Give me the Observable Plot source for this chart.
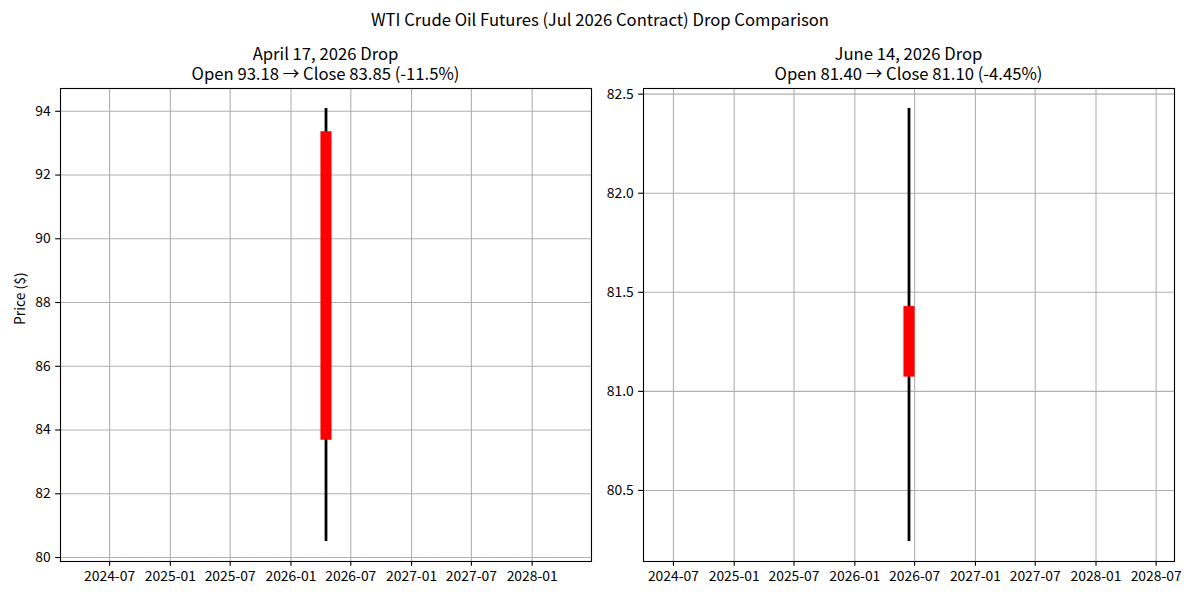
<!DOCTYPE html>
<html>
<head>
<meta charset="utf-8">
<script src="https://cdn.jsdelivr.net/npm/d3@7"></script>
<script src="https://cdn.jsdelivr.net/npm/@observablehq/plot@0.6"></script>
<style>
  html, body { margin: 0; padding: 0; background: #fff; }
  #root { position: relative; width: 1200px; height: 600px; font-family: "Noto Sans CJK JP", "Noto Sans", sans-serif; color: #000; overflow: hidden; }
  .sup { position: absolute; left: 0; top: 9px; width: 1200px; text-align: center; font-size: 16.67px; line-height: 20px; }
  .ttl { position: absolute; top: 43px; width: 500px; text-align: center; font-size: 16.67px; line-height: 20px; white-space: nowrap; }
  .panel { position: absolute; top: 80px; }
</style>
</head>
<body>
<div id="root"></div>
<script>
// ---- data ----
const suptitle = "WTI Crude Oil Futures (Jul 2026 Contract) Drop Comparison";
const panelTitles = [
  ["April 17, 2026 Drop", "Open 93.18 \u2192 Close 83.85 (-11.5%)"],
  ["June 14, 2026 Drop", "Open 81.40 \u2192 Close 81.10 (-4.45%)"]
];
const dates = ["2026-04-17", "2026-06-14"];
const opens = [93.18, 81.40];
const closes = [83.85, 81.10];
const highs = [94.04, 82.42];
const lows = [80.55, 80.25];
const yTicksLeft = [80, 82, 84, 86, 88, 90, 92, 94];
const yTicksRight = [80.5, 81.0, 81.5, 82.0, 82.5];
const xTicksLeft = ["2024-07-01","2025-01-01","2025-07-01","2026-01-01","2026-07-01","2027-01-01","2027-07-01","2028-01-01"];
const xTicksRight = ["2024-07-01","2025-01-01","2025-07-01","2026-01-01","2026-07-01","2027-01-01","2027-07-01","2028-01-01","2028-07-01"];
const yLabel = "Price ($)";

const root = document.getElementById("root");
const sup = document.createElement("div");
sup.className = "sup"; sup.textContent = suptitle; root.appendChild(sup);

const DAY = 86400000;
function panel(i, opts) {
  const d = new Date(dates[i]);
  const rows = [{date: d, open: opens[i], close: closes[i], high: highs[i], low: lows[i]}];
  const span = highs[i] - lows[i];
  const yDomain = [lows[i] - 0.05 * span, highs[i] + 0.05 * span];
  const halfX = (730.5 * 2) * 0.55; // matplotlib nonsingular date expansion + 5% margin
  const xDomain = [new Date(+d - halfX * DAY), new Date(+d + halfX * DAY)];
  const xt = opts.xTicks.map(s => new Date(s));
  const marks = [
    Plot.gridX(xt, {stroke: "#b0b0b0", strokeOpacity: 1, strokeWidth: 1.1}),
    Plot.gridY(opts.yTicks, {stroke: "#b0b0b0", strokeOpacity: 1, strokeWidth: 1.1}),
    Plot.axisX(xt, {tickFormat: d3.utcFormat("%Y-%m"), tickSize: 4.86, tickPadding: 4.86, label: null, strokeWidth: 1.1}),
    Plot.axisY(opts.yTicks, {tickFormat: opts.yFmt, tickSize: 4.86, tickPadding: 4.86, label: null, strokeWidth: 1.1}),
    Plot.ruleX(rows, {x: "date", y1: "low", y2: "high", stroke: "black", strokeWidth: 2.78, strokeLinecap: "square"}),
    Plot.ruleX(rows, {x: "date", y1: "open", y2: "close", stroke: "red", strokeWidth: 11.1, strokeLinecap: "square"}),
    Plot.frame({stroke: "black", strokeWidth: 1.1})
  ];
  if (opts.ylabel) {
    marks.push(Plot.text([yLabel], {frameAnchor: "left", text: d => d, rotate: -90, dx: -40, fontSize: 13.89, fill: "black"}));
  }
  const chart = Plot.plot({
    width: 600, height: 520,
    marginLeft: opts.ml, marginRight: opts.mr, marginTop: 8, marginBottom: 39,
    style: {fontFamily: '"Noto Sans CJK JP", "Noto Sans", sans-serif', fontSize: "13.89px", color: "black", background: "white", overflow: "visible"},
    x: {type: "utc", domain: xDomain},
    y: {domain: yDomain},
    marks
  });
  const wrap = document.createElement("div");
  wrap.className = "panel";
  wrap.style.left = opts.left + "px";
  wrap.appendChild(chart);
  root.appendChild(wrap);
  const t = document.createElement("div");
  t.className = "ttl";
  const cx = opts.left + opts.ml + (600 - opts.ml - opts.mr) / 2;
  t.style.left = (cx - 250) + "px";
  panelTitles[i].forEach(line => { const s = document.createElement("div"); s.textContent = line; t.appendChild(s); });
  root.appendChild(t);
}

panel(0, {left: 0, ml: 60, mr: 9, yTicks: yTicksLeft, yFmt: d3.format("d"), xTicks: xTicksLeft, ylabel: true});
panel(1, {left: 600, ml: 43, mr: 26, yTicks: yTicksRight, yFmt: d3.format(".1f"), xTicks: xTicksRight, ylabel: false});
</script>
</body>
</html>
